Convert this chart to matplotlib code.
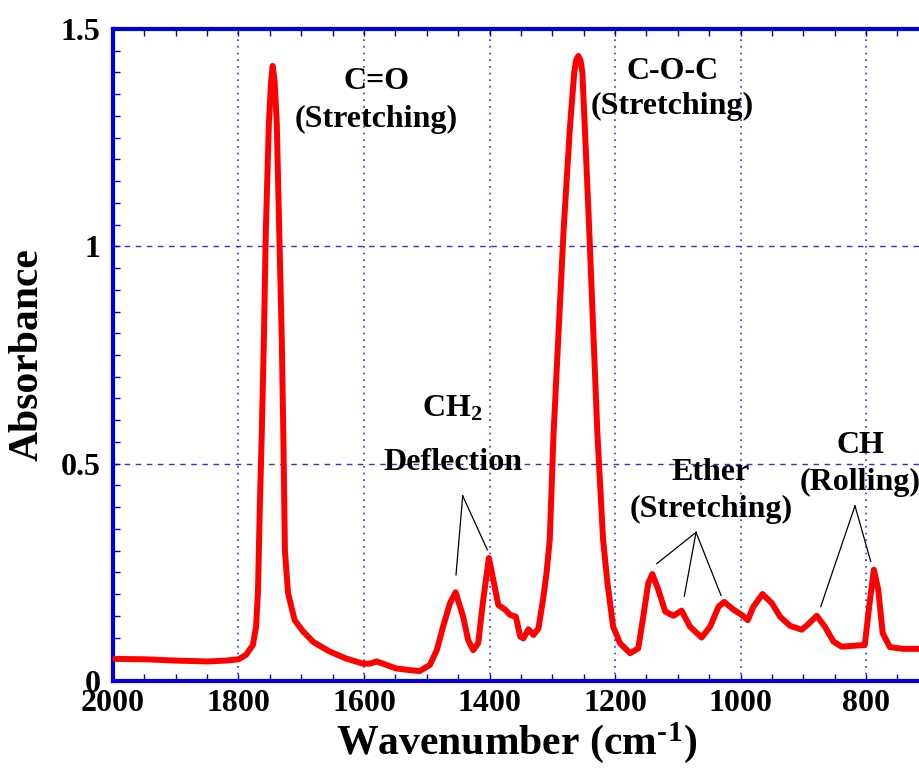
import numpy as np
import matplotlib
matplotlib.use("Agg")
import matplotlib.pyplot as plt
from matplotlib.ticker import MultipleLocator

# FTIR spectrum (wavenumber in cm-1, absorbance)
wavenumber = [2000, 1950, 1900, 1850, 1820, 1800, 1788, 1777, 1772, 1769,
              1766, 1763, 1759.5, 1756.5, 1751.5, 1748, 1745.5, 1742.5, 1739, 1735,
              1731, 1728.5, 1726, 1721, 1710.5, 1697, 1681, 1655, 1629, 1602,
              1590, 1580, 1570, 1549, 1527, 1511, 1495, 1484, 1474, 1463,
              1454, 1442, 1434, 1426, 1418, 1410, 1401, 1394, 1386, 1375,
              1367, 1358, 1351, 1346, 1338, 1330, 1322, 1314, 1309, 1304,
              1298, 1282, 1272, 1265, 1262, 1258.5, 1255, 1252, 1248, 1241,
              1228, 1219, 1212, 1203, 1192, 1176, 1163, 1155, 1147, 1140.5,
              1131, 1120, 1107, 1094, 1080.5, 1062, 1048.5, 1035, 1026, 1011,
              998, 988.5, 979.5, 965, 950, 937, 921, 902.5, 892, 878.5,
              865.5, 852, 839, 820, 802, 795, 787.5, 780.5, 773.5, 762,
              741, 714]
absorbance = [0.051, 0.050, 0.047, 0.045, 0.047, 0.050, 0.060, 0.083, 0.125, 0.203,
              0.400, 0.563, 0.786, 1.032, 1.285, 1.380, 1.415, 1.380, 1.285, 1.032,
              0.786, 0.563, 0.300, 0.202, 0.140, 0.114, 0.090, 0.068, 0.052, 0.040,
              0.040, 0.045, 0.040, 0.029, 0.025, 0.023, 0.037, 0.071, 0.125, 0.179,
              0.204, 0.148, 0.094, 0.071, 0.087, 0.187, 0.283, 0.233, 0.175, 0.164,
              0.152, 0.148, 0.102, 0.098, 0.119, 0.106, 0.121, 0.194, 0.250, 0.325,
              0.567, 1.035, 1.270, 1.400, 1.428, 1.438, 1.428, 1.400, 1.270, 1.035,
              0.567, 0.325, 0.225, 0.125, 0.087, 0.064, 0.075, 0.148, 0.225, 0.246,
              0.210, 0.160, 0.150, 0.162, 0.125, 0.100, 0.125, 0.171, 0.182, 0.164,
              0.152, 0.140, 0.171, 0.200, 0.179, 0.148, 0.127, 0.118, 0.131, 0.150,
              0.125, 0.091, 0.079, 0.081, 0.083, 0.171, 0.256, 0.210, 0.110, 0.078,
              0.074, 0.074]

# band labels: (text, x, baseline y)
labels = [("C=O", 1580, 1.362), ("(Stretching)", 1580, 1.274),
          ("C-O-C", 1109, 1.385), ("(Stretching)", 1109, 1.304),
          ("CH$_{2}$", 1459, 0.608), ("Deflection", 1459, 0.486),
          ("Ether", 1048, 0.463), ("(Stretching)", 1047, 0.378),
          ("CH", 809, 0.525), ("(Rolling)", 809, 0.440)]

# leader lines: apex -> peaks
leaders = [((1442.7, 0.426), [(1453.4, 0.244), (1403.5, 0.302)]),
           ((1070.9, 0.342), [(1133.5, 0.270), (1089.6, 0.195), (1031.1, 0.197)]),
           ((817.6, 0.403), [(872.2, 0.171), (792.5, 0.275)])]

plt.rcParams['font.family'] = ['Liberation Serif', 'DejaVu Serif']
plt.rcParams['font.weight'] = 'bold'
plt.rcParams['axes.labelweight'] = 'bold'
plt.rcParams['mathtext.fontset'] = 'custom'
plt.rcParams['mathtext.rm'] = 'Liberation Serif:bold'
plt.rcParams['mathtext.it'] = 'Liberation Serif:bold'
plt.rcParams['mathtext.bf'] = 'Liberation Serif:bold'
plt.rcParams['mathtext.default'] = 'rm'

blue = '#0000dd'
grid_blue = '#3030e0'

fig = plt.figure(figsize=(9.2, 7.73), dpi=100)
ax = fig.add_axes([0.1228, 0.119, 0.8772, 0.8435])

ax.plot(wavenumber, absorbance, color='#ff0000', lw=4.3,
        solid_joinstyle='round', solid_capstyle='round', zorder=3)

ax.set_xlim(2000, 714)
ax.set_ylim(0, 1.5)

ax.xaxis.set_major_locator(MultipleLocator(200))
ax.xaxis.set_minor_locator(MultipleLocator(50))
ax.yaxis.set_major_locator(MultipleLocator(0.5))
ax.yaxis.set_minor_locator(MultipleLocator(0.05))
ax.set_yticks([0, 0.5, 1, 1.5])
ax.set_yticklabels(['0', '0.5', '1', '1.5'])

for s in ['left', 'bottom', 'top']:
    ax.spines[s].set_color(blue)
    ax.spines[s].set_linewidth(3)
ax.spines['right'].set_visible(False)

ax.tick_params(which='both', direction='in', top=True, right=False,
               color=blue, width=1, length=5, labelsize=23)
ax.tick_params(axis='x', pad=6)
ax.tick_params(axis='y', pad=9)
for lab in ax.get_xticklabels() + ax.get_yticklabels():
    lab.set_fontweight('bold')

ax.xaxis.grid(True, which='major', color=grid_blue, ls=(0, (1, 3)), lw=1.2)
ax.yaxis.grid(True, which='major', color=grid_blue, ls=(0, (4, 4)), lw=1)
ax.set_axisbelow(True)

ax.set_xlabel('Wavenumber (cm$^{\u2010}$$^{1}$)', fontsize=30, fontweight='bold',
              labelpad=1)
ax.set_ylabel('Absorbance', fontsize=30, fontweight='bold', labelpad=10)

for txt, x, y in labels:
    ax.text(x, y, txt, ha='center', va='baseline', fontsize=23,
            fontweight='bold', zorder=4, clip_on=False)

for apex, targets in leaders:
    for t in targets:
        ax.plot([apex[0], t[0]], [apex[1], t[1]], color='black', lw=0.9, zorder=4)

fig.savefig('out.png', dpi=100)
